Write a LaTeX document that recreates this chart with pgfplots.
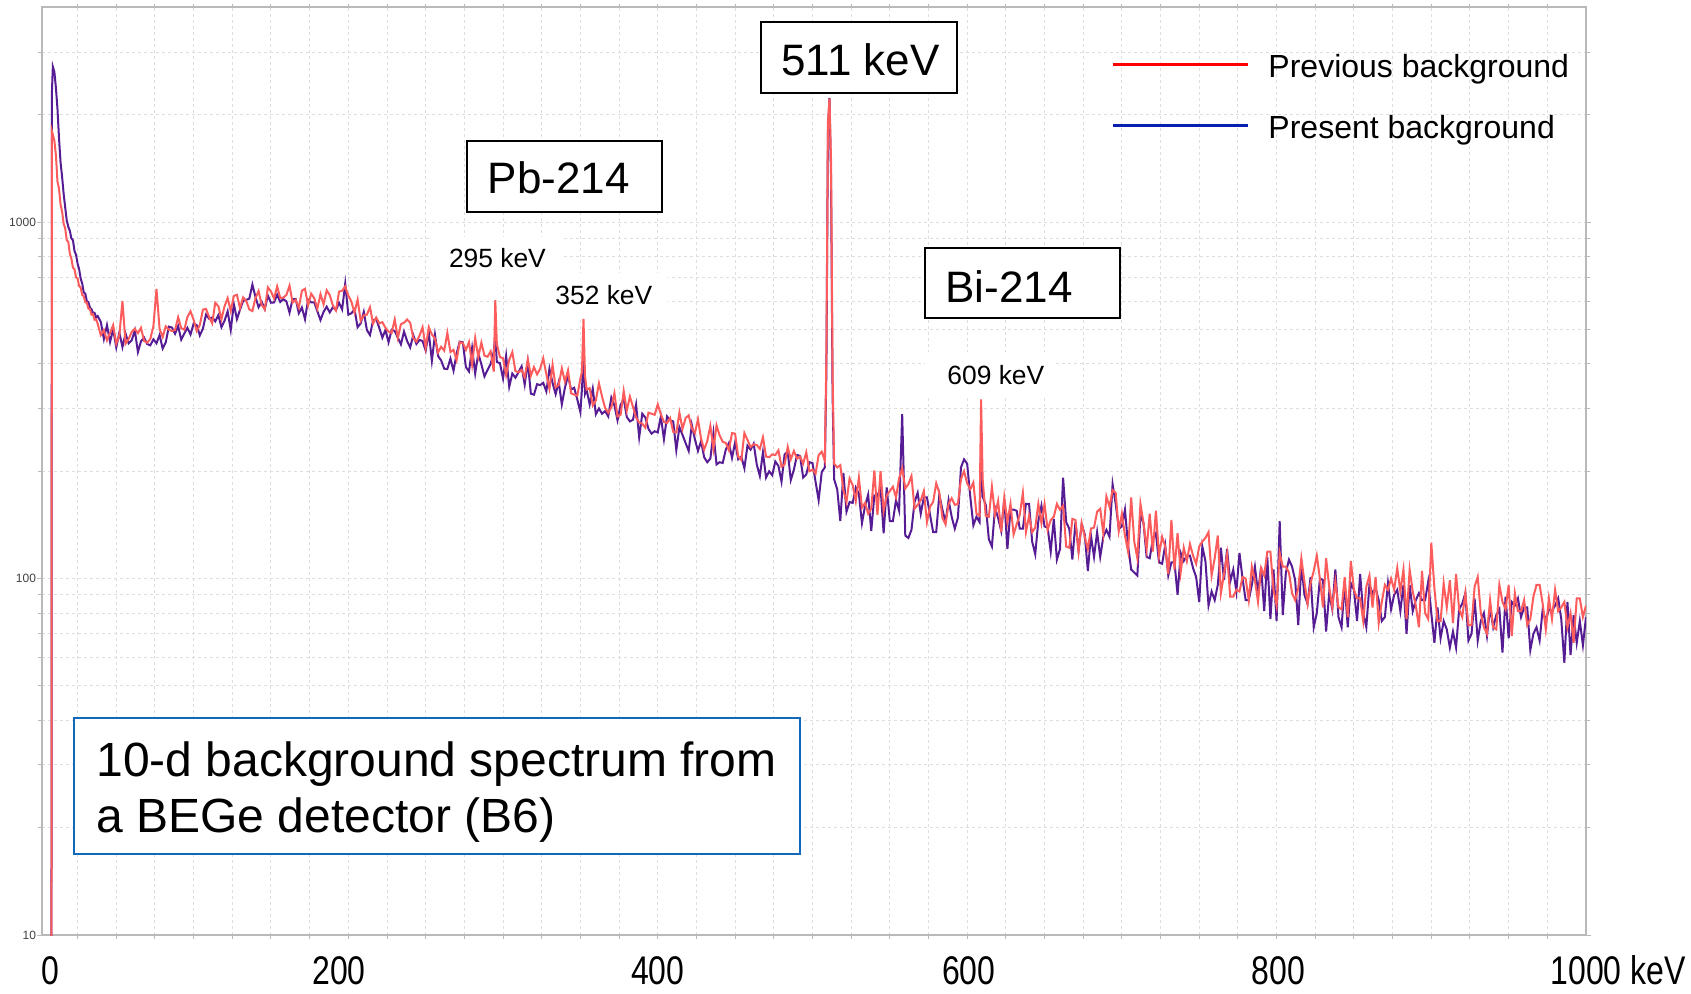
\documentclass[border=0pt]{standalone}
\usepackage{pgfplots}
\usepackage{pgfplotstable}
\pgfplotsset{compat=1.18}
\usepackage{fontspec}
\setmainfont{Liberation Sans}
\newfontfamily\narrowfont[FakeStretch=0.8]{Liberation Sans}
\definecolor{prevred}{RGB}{252,92,92}
\definecolor{presblue}{RGB}{86,28,148}
\definecolor{legred}{RGB}{255,0,0}
\definecolor{legblue}{RGB}{8,32,176}
\definecolor{boxblue}{RGB}{18,104,186}
\definecolor{gridgray}{RGB}{222,222,222}
\pgfplotstableread{
E R B
8 1 1
8.4 1800 2300
9 1760 2730
10 1690 2640
11 1540 2380
12 1300 2080
13 1240 1720
14 1120 1470
15 1070 1340
16 990 1200
17 960 1100
18 890 1010
19 880 970
20 815 945
21 790 900
22 745 890
23 738 830
24 700 810
25 695 765
26 662 738
27 655 695
28 625 672
29 620 635
30 596 630
31 594 600
32 572 596
33 570 575
34 550 570
35 552 556
36 532 556
37 534 540
38 518 545
40 482 525
42 498 470
44 466 514
46 489 461
48 514 501
50 456 445
52 481 490
54 601 446
56 456 487
58 470 457
60 492 466
62 502 497
64 488 432
66 505 463
68 464 474
70 459 455
72 470 451
74 510 469
76 649 457
78 502 482
80 476 442
82 510 460
84 499 509
86 495 506
88 498 486
90 541 511
92 504 468
94 499 487
96 542 505
98 562 484
100 532 519
102 495 514
104 514 481
106 568 502
108 571 550
110 542 536
112 520 540
114 594 527
116 581 548
118 534 507
120 581 529
122 612 562
124 563 498
126 621 589
128 625 534
130 574 568
132 615 601
134 601 605
136 569 610
138 563 668
140 612 616
142 641 577
144 586 598
146 569 570
148 656 622
150 639 594
152 611 595
154 660 626
156 613 597
158 614 608
160 625 599
162 663 557
164 595 608
166 605 608
168 575 555
170 642 576
172 650 534
174 584 606
176 630 595
178 611 595
180 572 562
182 628 531
184 588 560
186 644 579
188 624 558
190 584 577
192 565 566
194 638 594
196 642 569
198 660 672
200 622 550
202 598 555
204 557 569
206 606 507
208 528 520
210 548 560
212 550 498
214 577 482
216 519 530
218 540 535
220 520 505
222 524 474
224 505 498
226 493 460
228 489 499
230 533 495
232 473 474
234 517 454
236 522 493
238 533 464
240 522 445
242 472 482
244 462 455
246 480 467
248 507 464
250 444 436
252 507 491
254 484 408
256 472 483
258 431 421
260 447 409
262 436 388
264 489 387
266 432 414
268 438 383
270 410 428
272 460 462
274 458 460
276 438 392
278 461 381
280 398 443
282 473 376
284 418 428
286 459 399
288 422 369
290 419 385
292 434 400
294 381 433
295 604 479
296 455 405
298 418 402
300 415 364
302 372 422
304 411 345
306 432 376
308 382 366
310 379 379
312 385 394
314 367 350
316 412 405
318 371 330
320 392 328
322 374 351
324 388 349
326 415 354
328 374 335
330 341 388
332 398 354
334 344 329
336 349 356
338 389 308
340 357 343
342 384 371
344 331 339
346 328 343
348 326 318
350 364 293
351 380 340
352 535 413
353 370 330
354 339 339
356 342 308
358 306 341
360 316 289
362 353 300
364 324 290
366 301 295
368 292 285
370 302 322
372 331 306
374 285 278
376 288 307
378 336 319
380 296 284
382 324 276
384 303 279
386 283 308
388 274 249
390 272 290
392 265 283
394 292 263
396 290 255
398 288 259
400 308 257
402 289 285
404 275 246
406 273 285
408 282 278
410 258 276
412 257 229
414 292 266
416 263 253
418 282 240
420 287 228
422 264 270
424 256 246
426 280 228
428 247 243
430 230 219
432 243 212
434 268 217
436 231 256
438 269 209
440 252 212
442 242 211
444 240 230
446 229 240
448 256 218
450 255 241
452 220 216
454 215 220
456 256 204
458 245 236
460 234 230
462 238 239
464 237 209
466 231 194
468 249 226
470 220 192
472 219 200
474 223 195
476 222 213
478 229 207
480 206 187
482 209 223
484 234 227
486 216 189
488 228 202
490 217 222
492 220 221
494 210 192
496 226 196
498 200 212
500 202 211
502 197 187
504 222 166
506 227 199
508 214 205
509 420 380
510 1900 1800
511 2220 2230
512 1500 1350
513 380 330
514 210 190
516 205 178
518 208 145
520 177 198
522 164 154
524 191 164
526 183 163
528 165 180
530 192 173
532 158 143
534 163 160
536 152 172
538 157 136
540 201 171
542 151 170
544 200 181
546 155 134
548 171 180
550 176 145
552 181 145
554 169 166
556 191 155
558 204 289
560 179 132
562 184 130
564 194 137
566 157 164
568 161 174
570 166 152
572 176 169
574 144 169
576 159 151
578 164 135
580 185 135
582 174 172
584 148 156
586 142 144
588 162 166
590 168 149
592 161 138
594 162 148
596 190 205
598 200 216
600 185 210
602 178 170
604 186 141
606 152 149
608 150 144
609 318 226
610 190 170
612 150 161
614 149 129
616 181 123
618 151 158
620 165 148
622 135 136
624 169 167
626 144 121
628 162 156
630 133 156
632 142 155
634 151 138
636 174 138
638 135 162
640 150 162
642 135 127
644 139 117
646 162 145
648 143 160
650 162 140
652 137 139
654 146 119
656 149 147
658 162 113
660 156 121
662 160 192
664 123 144
666 122 138
668 147 113
670 146 144
672 119 120
674 143 142
676 131 133
678 121 105
680 138 132
682 139 115
684 154 135
686 157 115
688 134 131
690 170 137
692 159 131
694 177 184
696 174 162
698 136 138
700 152 140
702 132 156
704 119 124
706 169 106
708 127 104
710 114 102
712 162 151
714 143 143
716 121 115
718 152 114
720 119 129
722 155 134
724 116 111
726 131 110
728 123 124
730 103 102
732 146 111
734 106 111
736 134 90
738 104 118
740 122 112
742 112 116
744 125 116
746 116 107
748 110 101
750 123 86
752 127 123
754 130 112
756 135 84
758 102 92
760 114 87
762 132 96
764 91 122
766 103 99
768 117 121
770 89 98
772 89 106
774 93 92
776 92 118
778 101 100
780 100 87
782 87 87
784 108 96
786 99 108
788 86 91
790 107 108
792 102 81
794 119 115
796 119 77
798 93 106
800 84 76
802 118 145
804 108 79
806 108 104
808 104 113
810 91 108
812 87 99
814 94 74
816 114 110
818 98 90
820 85 85
822 97 101
824 105 73
826 116 80
828 100 100
830 83 99
832 114 71
834 95 91
836 83 82
838 98 106
840 83 78
842 82 73
844 101 97
846 78 73
848 112 97
850 93 93
852 88 76
854 88 103
856 76 80
858 95 73
860 102 96
862 83 91
864 101 94
866 75 87
868 86 76
870 96 78
872 93 97
874 100 82
876 93 90
878 107 93
880 92 81
882 106 96
884 77 70
886 106 96
888 92 81
890 84 87
892 73 91
894 105 87
896 80 87
898 77 98
900 126 80
902 94 66
904 76 83
906 76 68
908 97 76
910 83 72
912 99 64
914 75 71
916 103 64
918 82 82
920 78 85
922 91 91
924 74 67
926 74 70
928 95 88
930 101 67
932 80 76
934 73 80
936 70 69
938 87 83
940 73 73
942 72 79
944 96 82
946 86 62
948 82 89
950 96 68
952 69 86
954 91 84
956 81 88
958 81 78
960 87 83
962 74 83
964 77 63
966 89 70
968 96 73
970 96 67
972 85 82
974 72 76
976 88 82
978 77 81
980 93 84
982 81 88
984 83 77
986 86 58
988 73 86
990 80 61
992 66 79
994 88 66
996 88 76
998 78 65
1000 84 78
}\spectrum
\begin{document}
\begin{tikzpicture}
\begin{axis}[
  scale only axis, width=772pt, height=463.75pt,
  xmin=2, xmax=1000, ymode=log, ymin=10, ymax=4000,
  axis line style={draw=gray!55, line width=1pt},
  xtick={7.5,194,400,601,801,1000},
  xticklabels={0,200,400,600,800,{1000\rlap{\ keV}}},
  major x tick style={draw=none},
  minor xtick={25,50,...,975},
  minor x tick style={draw=gray!55, line width=0.5pt},
  xminorgrids=true,
  ytick={10,100,1000},
  yticklabels={10,100,1000},
  minor ytick={20,30,40,50,60,70,80,90,200,300,400,500,600,700,800,900,2000,3000},
  ymajorgrids=true, yminorgrids=true,
  tick align=outside,
  major tick length=2.5pt, minor tick length=2pt,
  y tick style={draw=gray!55, line width=0.5pt},
  grid style={gridgray, dash pattern=on 1.5pt off 1.5pt, line width=0.5pt},
  minor grid style={gridgray, dash pattern=on 1.5pt off 1.5pt, line width=0.5pt},
  x tick label style={font=\narrowfont\fontsize{20}{20}\selectfont, anchor=base, yshift=-22.5pt, text=black},
  y tick label style={font=\fontsize{6}{6}\selectfont, text=gray!50!black, xshift=3pt},
  legend style={draw=none, fill=none, at={(0.6924,0.9495)}, anchor=north west,
    font=\fontsize{16}{16}\selectfont, row sep=17.2pt, column sep=9.5pt, inner sep=0pt,
    nodes={inner sep=0pt}},
  legend cell align=left,
]
\addplot[presblue, line width=1pt, forget plot] table[x=E, y=B] {\spectrum};
\addplot[prevred, line width=1pt, forget plot] table[x=E, y=R] {\spectrum};
\addlegendimage{legend image code/.code={\draw[legred, line width=1.5pt] (0pt,0.15em) -- (67.5pt,0.15em);}}
\addlegendentry{Previous background}
\addlegendimage{legend image code/.code={\draw[legblue, line width=1.5pt] (0pt,0.15em) -- (67.5pt,0.15em);}}
\addlegendentry{Present background}
\coordinate (SW) at (rel axis cs:0,0);
\end{axis}
\begin{scope}[shift={([xshift=-21pt,yshift=467.5pt]SW)}, x=0.5pt, y=-0.5pt]
\draw[black, line width=1pt, fill=white] (761,21.6) rectangle (957,92.7);
\node[anchor=base west, inner sep=0pt, font=\fontsize{22}{22}\selectfont] at (781,75.5) {511 keV};
\draw[black, line width=1pt, fill=white] (467,141) rectangle (662,212);
\node[anchor=base west, inner sep=0pt, font=\fontsize{22}{22}\selectfont] at (487.5,194) {Pb-214};
\draw[black, line width=1pt, fill=white] (925,248) rectangle (1120,318);
\node[anchor=base west, inner sep=0pt, font=\fontsize{22}{22}\selectfont] at (945,302) {Bi-214};
\fill[white] (429,237) rectangle (563,283);
\node[anchor=base west, inner sep=0pt, font=\fontsize{13.2}{13.2}\selectfont] at (448.6,267.5) {295 keV};
\fill[white] (535,273) rectangle (668,318);
\node[anchor=base west, inner sep=0pt, font=\fontsize{13.2}{13.2}\selectfont] at (555,304) {352 keV};
\fill[white] (925,352) rectangle (1055,398);
\node[anchor=base west, inner sep=0pt, font=\fontsize{13.2}{13.2}\selectfont] at (947,384) {609 keV};
\draw[boxblue, line width=1pt, fill=white] (74,718) rectangle (800,854);
\node[anchor=base west, inner sep=0pt, font=\fontsize{24}{24}\selectfont] at (96,776) {10-d background spectrum from};
\node[anchor=base west, inner sep=0pt, font=\fontsize{24}{24}\selectfont] at (96,832.6) {a BEGe detector (B6)};
\end{scope}
\pgfresetboundingbox
\begin{scope}[shift={([xshift=-21pt,yshift=467.5pt]SW)}, x=0.5pt, y=-0.5pt]
\path (0,0) rectangle (1691,993);
\end{scope}
\end{tikzpicture}
\end{document}
